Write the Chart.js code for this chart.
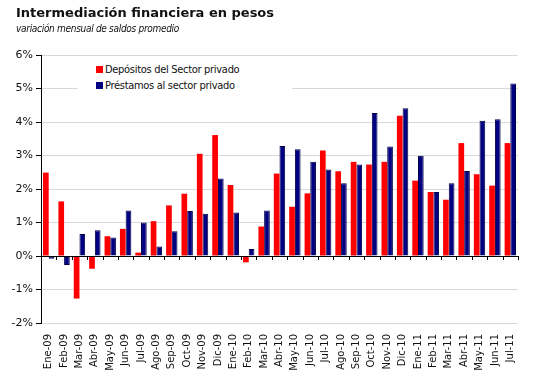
<!DOCTYPE html>
<html>
<head>
<meta charset="utf-8">
<script src="https://cdn.jsdelivr.net/npm/chart.js@4.4.0/dist/chart.umd.min.js"></script>
<style>
  body { margin: 0; background: #fff; }
  #wrap { position: relative; width: 533px; height: 386px; }
  #title { position: absolute; left: 16px; top: 5px; font: bold 13px "DejaVu Sans"; color: #111; }
  #subtitle { position: absolute; left: 16px; top: 23px; font: italic 10px "DejaVu Sans Condensed"; color: #111; letter-spacing: -0.3px; }
  #legend { position: absolute; left: 78px; top: 61px; width: 196px; background: #fff; padding: 1px 0 2px 18px; font: 11px "DejaVu Sans Condensed"; color: #111; letter-spacing: -0.3px; }
  #legend div { height: 16px; line-height: 16px; }
  #legend span { display: inline-block; width: 7px; height: 7px; margin-right: 2px; }
</style>
</head>
<body>
<div id="wrap">
  <canvas id="myChart" width="533" height="386"></canvas>
  <div id="title">Intermediación financiera en pesos</div>
  <div id="subtitle">variación mensual de saldos promedio</div>
  <div id="legend">
    <div><span style="background:#ff0000"></span>Depósitos del Sector privado</div>
    <div><span style="background:#000080"></span>Préstamos al sector privado</div>
  </div>
</div>
<script>
const months = [
  "Ene-09", "Feb-09", "Mar-09", "Abr-09", "May-09", "Jun-09", "Jul-09", "Ago-09", "Sep-09", "Oct-09", "Nov-09", "Dic-09",
  "Ene-10", "Feb-10", "Mar-10", "Abr-10", "May-10", "Jun-10", "Jul-10", "Ago-10", "Sep-10", "Oct-10", "Nov-10", "Dic-10",
  "Ene-11", "Feb-11", "Mar-11", "Abr-11", "May-11", "Jun-11", "Jul-11"
];

const depositos = [
  2.49, 1.63, -1.27, -0.38, 0.59, 0.81, 0.10, 1.04, 1.51, 1.86, 3.05, 3.61,
  2.12, -0.19, 0.88, 2.46, 1.47, 1.87, 3.15, 2.53, 2.81, 2.73, 2.81, 4.19,
  2.25, 1.91, 1.68, 3.37, 2.44, 2.10, 3.37
];

const prestamos = [
  -0.08, -0.27, 0.66, 0.77, 0.55, 1.36, 1.00, 0.28, 0.74, 1.34, 1.26, 2.31,
  1.30, 0.21, 1.36, 3.28, 3.19, 2.81, 2.58, 2.17, 2.73, 4.27, 3.27, 4.41,
  2.99, 1.91, 2.17, 2.54, 4.04, 4.08, 5.15
];

const yMin = -2;
const yMax = 6;

// small tick marks on the zero line, between categories
const zeroTicks = {
  id: "zeroTicks",
  afterDatasetsDraw(chart) {
    const ctx = chart.ctx;
    const x = chart.scales.x;
    const y0 = chart.scales.y.getPixelForValue(0);
    ctx.save();
    ctx.strokeStyle = "#000";
    ctx.lineWidth = 1;
    ctx.beginPath();
    ctx.moveTo(chart.chartArea.left, y0 + 0.5);
    ctx.lineTo(chart.chartArea.right, y0 + 0.5);
    for (let i = 0; i <= months.length; i++) {
      const px = Math.round(x.left + (x.width / months.length) * i) + 0.5;
      ctx.moveTo(px, y0);
      ctx.lineTo(px, y0 + 4);
    }
    ctx.stroke();
    ctx.restore();
  },
};

const data = {
  labels: months,
  datasets: [
    {
      label: "Depósitos del Sector privado",
      backgroundColor: "#ff0000",
      borderWidth: 0,
      data: depositos,
    },
    {
      label: "Préstamos al sector privado",
      backgroundColor: "#000080",
      borderColor: "#00004a",
      borderWidth: 1,
      data: prestamos,
    },
  ],
};

const config = {
  type: "bar",
  data: data,
  options: {
    responsive: false,
    animation: false,
    layout: { padding: { top: 55, right: 15, left: 0, bottom: 0 } },
    datasets: { bar: { categoryPercentage: 0.74, barPercentage: 1 } },
    plugins: {
      legend: { display: false },
      tooltip: { enabled: false },
    },
    scales: {
      x: {
        grid: { display: false },
        border: { display: false },
        ticks: {
          color: "#111",
          font: { family: "DejaVu Sans", size: 10 },
          minRotation: 90,
          maxRotation: 90,
          autoSkip: false,
          padding: 3,
        },
        afterFit(axis) { axis.height = 63; },
      },
      y: {
        min: yMin,
        max: yMax,
        ticks: {
          stepSize: 1,
          color: "#111",
          font: { family: "DejaVu Sans", size: 11 },
          padding: 3,
          callback: (v) => v + "%",
        },
        grid: { color: "#d9d9d9", tickColor: "#000", tickLength: 5 },
        border: { display: true, color: "#000", width: 1 },
        afterFit(axis) { axis.width = 41; },
      },
    },
  },
  plugins: [zeroTicks],
};

const myChart = new Chart(document.getElementById("myChart"), config);
</script>
</body>
</html>
